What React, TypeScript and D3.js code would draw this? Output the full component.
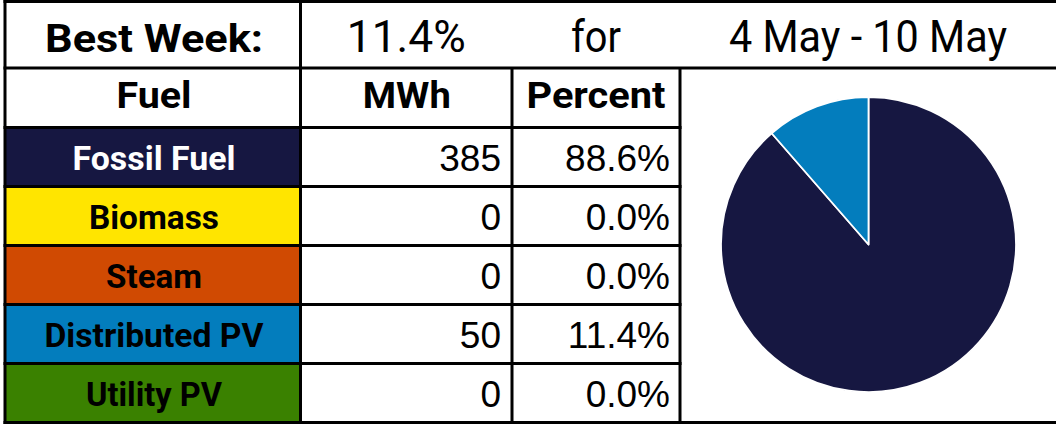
import React from "react";
import * as d3 from "d3";

// ---- data ----
const fuels = ["Fossil Fuel", "Biomass", "Steam", "Distributed PV", "Utility PV"];
const mwhValues = [385, 0, 0, 50, 0];
const percentValues = [88.6, 0.0, 0.0, 11.4, 0.0];
const fuelColors = ["#161741", "#FFE500", "#D04A02", "#037DBD", "#3A8100"];
const fuelTextColors = ["#FFFFFF", "#000000", "#000000", "#000000", "#000000"];
const headerLabels = ["Fuel", "MWh", "Percent"];
const bestWeekLabel = "Best Week:";
const bestWeekValue = "11.4%";
const forLabel = "for";
const weekRange = "4 May - 10 May";

// ---- layout (styling) ----
const W = 1056;
const H = 424;
const xEdges = [5, 300.5, 512, 680, 1056];
const topY = 1.5;
const headerBottom = 68;
const fuelHeaderBottom = 127.5;
const bottomY = 422.5;
const LW = 3;

const textWidths: Record<string, number> = {
  "Best Week:": 218,
  "11.4%": 119,
  for: 50,
  "4 May - 10 May": 278,
  Fuel: 75,
  MWh: 88,
  Percent: 139,
  "Fossil Fuel": 163,
  Biomass: 130,
  Steam: 96,
  "Distributed PV": 219,
  "Utility PV": 136,
};

const headFont = "Roboto, 'Liberation Sans', sans-serif";
const numFont = "'Liberation Sans', Arial, sans-serif";

export default function App() {
  const y = d3.scaleBand<string>().domain(fuels).range([fuelHeaderBottom, bottomY]);
  const color = d3.scaleOrdinal<string, string>().domain(fuels).range(fuelColors);
  const textColor = d3.scaleOrdinal<string, string>().domain(fuels).range(fuelTextColors);
  const fmtPct = (v: number) => d3.format(".1f")(v) + "%";

  const fuelCx = 154;
  const mwhRight = 501;
  const pctRight = 670;
  const pctCx = (xEdges[2] + xEdges[3]) / 2;
  const mwhCx = (xEdges[1] + xEdges[2]) / 2 + 0.5;

  const pieData = fuels.map((f, i) => ({ fuel: f, value: percentValues[i] }));
  const pie = d3
    .pie<{ fuel: string; value: number }>()
    .sort(null)
    .value((d) => d.value);
  const arcs = pie(pieData).filter((a) => a.value > 0);
  const arc = d3
    .arc<d3.PieArcDatum<{ fuel: string; value: number }>>()
    .innerRadius(0)
    .outerRadius(147.5);
  const pieCx = 868.5;
  const pieCy = 244.5;

  const bw = y.bandwidth();

  return (
    <svg
      width={W}
      height={H}
      style={{ position: "absolute", left: 0, top: 0, background: "#fff" }}
    >
      <rect x={0} y={0} width={W} height={H} fill="#fff" />

      {/* fuel color cells */}
      {fuels.map((f) => (
        <rect
          key={f}
          x={xEdges[0]}
          y={y(f)!}
          width={xEdges[1] - xEdges[0]}
          height={bw}
          fill={color(f)}
        />
      ))}

      {/* pie */}
      <g transform={`translate(${pieCx},${pieCy})`}>
        {arcs.map((a) => (
          <path
            key={a.data.fuel}
            d={arc(a) || ""}
            fill={color(a.data.fuel)}
            stroke="#fff"
            strokeWidth={1.8}
            strokeLinejoin="round"
          />
        ))}
      </g>

      {/* grid lines */}
      <g stroke="#000" strokeWidth={LW}>
        <line x1={xEdges[0] - 1.5} x2={W} y1={topY} y2={topY} />
        <line x1={xEdges[0] - 1.5} x2={W} y1={headerBottom} y2={headerBottom} />
        <line x1={xEdges[0] - 1.5} x2={W} y1={bottomY} y2={bottomY} />
        <line x1={xEdges[0]} x2={xEdges[0]} y1={0} y2={H} />
        <line x1={xEdges[1]} x2={xEdges[1]} y1={0} y2={H} />
        <line x1={xEdges[2]} x2={xEdges[2]} y1={headerBottom} y2={H} />
        <line x1={xEdges[3]} x2={xEdges[3]} y1={headerBottom} y2={H} />
        {fuels.map((f) => (
          <line
            key={f}
            x1={xEdges[0] - 1.5}
            x2={xEdges[3] + 1.5}
            y1={y(f)!}
            y2={y(f)!}
          />
        ))}
      </g>

      {/* top row */}
      <g fontFamily={headFont} fill="#000">
        <text
          x={fuelCx}
          y={52}
          textAnchor="middle"
          fontWeight={700}
          fontSize={38.5}
          textLength={textWidths[bestWeekLabel]}
          lengthAdjust="spacingAndGlyphs"
        >
          {bestWeekLabel}
        </text>
        <text
          x={(xEdges[1] + xEdges[2]) / 2}
          y={52}
          textAnchor="middle"
          fontSize={44}
          textLength={textWidths[bestWeekValue]}
          lengthAdjust="spacingAndGlyphs"
        >
          {bestWeekValue}
        </text>
        <text
          x={pctCx}
          y={52}
          textAnchor="middle"
          fontSize={44}
          textLength={textWidths[forLabel]}
          lengthAdjust="spacingAndGlyphs"
        >
          {forLabel}
        </text>
        <text
          x={(xEdges[3] + xEdges[4]) / 2}
          y={52}
          textAnchor="middle"
          fontSize={44}
          textLength={textWidths[weekRange]}
          lengthAdjust="spacingAndGlyphs"
        >
          {weekRange}
        </text>
      </g>

      {/* header row */}
      <g fontFamily={headFont} fontWeight={700} fontSize={37.5} fill="#000">
        {headerLabels.map((h, i) => (
          <text
            key={h}
            x={[fuelCx, mwhCx, pctCx][i]}
            y={108.3}
            textAnchor="middle"
            textLength={textWidths[h]}
            lengthAdjust="spacingAndGlyphs"
          >
            {h}
          </text>
        ))}
      </g>

      {/* data rows */}
      {fuels.map((f, i) => {
        const cy = y(f)! + bw / 2;
        return (
          <g key={f}>
            <text
              x={fuelCx}
              y={cy + 12.8}
              textAnchor="middle"
              fontFamily={headFont}
              fontWeight={700}
              fontSize={33}
              fill={textColor(f)}
              textLength={textWidths[f]}
              lengthAdjust="spacingAndGlyphs"
            >
              {f}
            </text>
            <text
              x={mwhRight}
              y={cy + 14}
              textAnchor="end"
              fontFamily={numFont}
              fontSize={37}
              fill="#000"
            >
              {d3.format(",.0f")(mwhValues[i])}
            </text>
            <text
              x={pctRight}
              y={cy + 14}
              textAnchor="end"
              fontFamily={numFont}
              fontSize={37}
              fill="#000"
            >
              {fmtPct(percentValues[i])}
            </text>
          </g>
        );
      })}
    </svg>
  );
}
